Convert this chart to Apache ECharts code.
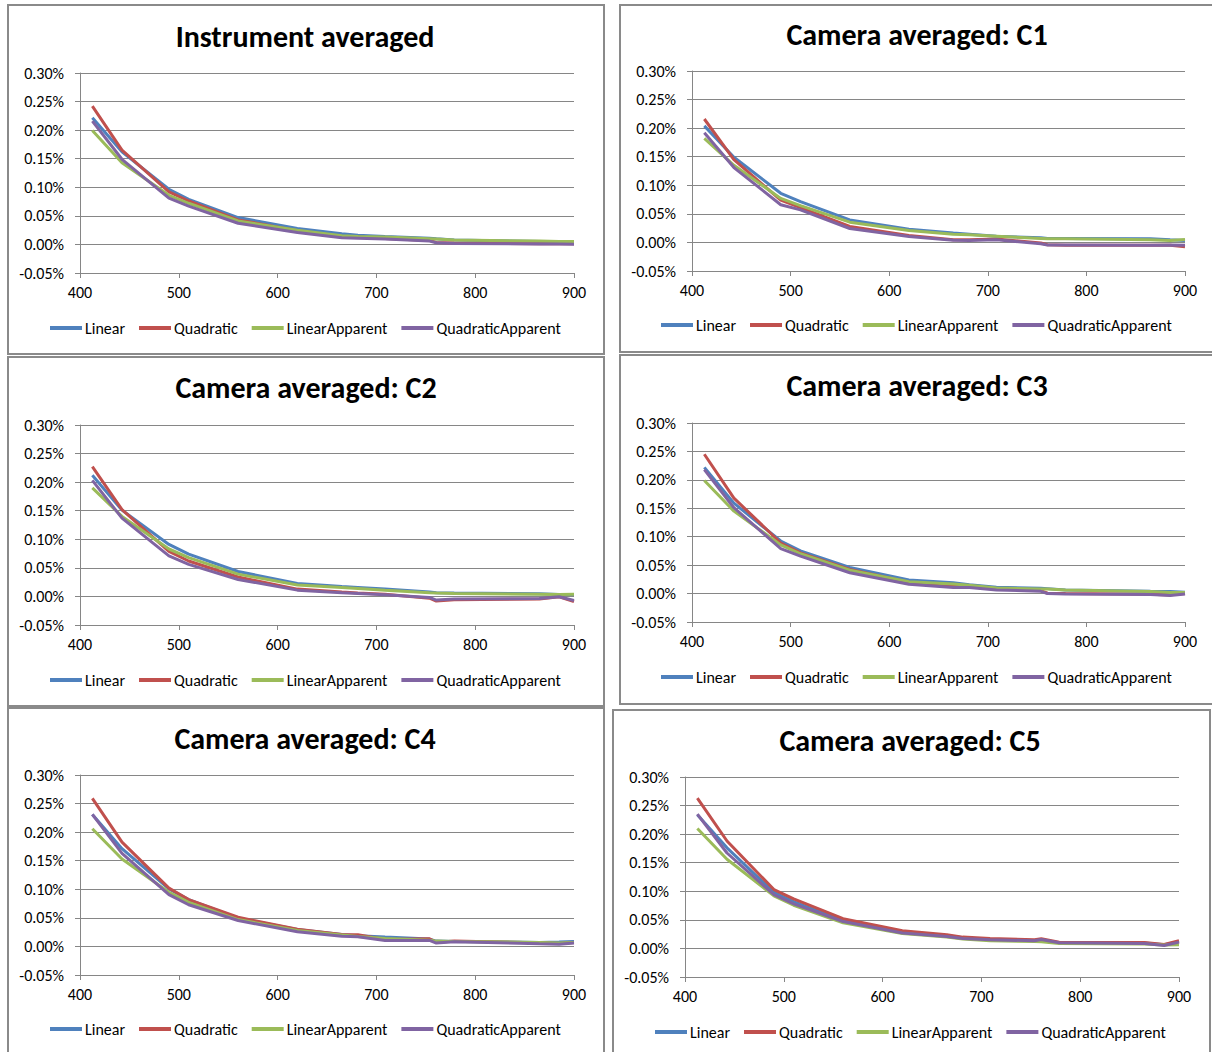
<!DOCTYPE html>
<html>
<head>
<meta charset="utf-8">
<script src="https://cdn.jsdelivr.net/npm/echarts@6/dist/echarts.min.js"></script>
<style>
html,body{margin:0;padding:0;background:#fff;}
#main{width:1212px;height:1052px;}
</style>
</head>
<body>
<div id="main"></div>
<script>
// Wavelengths (nm) of the MERIS bands
const wavelengths = [412.5, 442.5, 490, 510, 560, 620, 665, 681.25, 708.75, 753.75, 760.625, 778.75, 865, 885, 900];
const seriesNames = ['Linear', 'Quadratic', 'LinearApparent', 'QuadraticApparent'];
const panelTitles = ['Instrument averaged', 'Camera averaged: C1', 'Camera averaged: C2', 'Camera averaged: C3', 'Camera averaged: C4', 'Camera averaged: C5'];
const xTicks = [400, 500, 600, 700, 800, 900];
const yTicks = [-0.05, 0, 0.05, 0.10, 0.15, 0.20, 0.25, 0.30]; // percent

// values in percent
const instLinear = [0.2215, 0.162, 0.0965, 0.079, 0.047, 0.028, 0.0186, 0.016, 0.014, 0.011, 0.0099, 0.0076, 0.0052, 0.0047, 0.0047];
const instQuadratic = [0.242, 0.165, 0.092, 0.076, 0.043, 0.024, 0.014, 0.0128, 0.0105, 0.007, 0.0035, 0.0023, 0.0012, 0.0012, 0.001];
const instLinearApparent = [0.1994, 0.143, 0.086, 0.072, 0.041, 0.025, 0.015, 0.014, 0.0128, 0.0099, 0.0093, 0.0076, 0.0058, 0.0052, 0.005];
const instQuadraticApparent = [0.2157, 0.149, 0.081, 0.067, 0.037, 0.021, 0.0116, 0.011, 0.0093, 0.0058, 0.003, 0.0017, 0.0006, 0.0006, 0.0005];

const c1Linear = [0.204, 0.149, 0.086, 0.0715, 0.0395, 0.023, 0.0163, 0.0145, 0.011, 0.008, 0.007, 0.007, 0.0064, 0.0047, 0.0035];
const c1Quadratic = [0.216, 0.145, 0.074, 0.061, 0.028, 0.012, 0.0047, 0.0047, 0.0058, -0.001, -0.004, -0.005, -0.005, -0.005, -0.0075];
const c1LinearApparent = [0.182, 0.135, 0.077, 0.0645, 0.0355, 0.021, 0.0145, 0.0134, 0.011, 0.007, 0.0064, 0.0064, 0.0047, 0.0035, 0.005];
const c1QuadraticApparent = [0.192, 0.131, 0.066, 0.057, 0.0244, 0.0105, 0.004, 0.0035, 0.0047, -0.0023, -0.0047, -0.0047, -0.005, -0.0047, -0.005];

const c2Linear = [0.212, 0.151, 0.091, 0.074, 0.0436, 0.0227, 0.0174, 0.0157, 0.0128, 0.0076, 0.0064, 0.0058, 0.0047, 0.0035, 0.0035];
const c2Quadratic = [0.227, 0.152, 0.079, 0.062, 0.034, 0.0128, 0.0076, 0.0058, 0.004, -0.003, -0.008, -0.0058, -0.0047, -0.0006, -0.009];
const c2LinearApparent = [0.190, 0.140, 0.083, 0.068, 0.039, 0.020, 0.0157, 0.014, 0.011, 0.0064, 0.0058, 0.0052, 0.004, 0.0035, 0.004];
const c2QuadraticApparent = [0.203, 0.137, 0.071, 0.056, 0.0297, 0.011, 0.0064, 0.0052, 0.003, -0.0017, -0.0064, -0.0047, -0.0035, -0.0006, -0.007];

const c3Linear = [0.222, 0.159, 0.0925, 0.075, 0.046, 0.024, 0.019, 0.0157, 0.011, 0.0093, 0.0087, 0.0064, 0.004, 0.0035, 0.0023];
const c3Quadratic = [0.245, 0.168, 0.089, 0.0715, 0.0424, 0.020, 0.0145, 0.0128, 0.008, 0.0052, 0.0006, 0, -0.001, -0.0023, 0];
const c3LinearApparent = [0.199, 0.145, 0.0855, 0.070, 0.041, 0.021, 0.017, 0.0145, 0.0099, 0.008, 0.008, 0.0064, 0.0035, 0.0017, 0.0017];
const c3QuadraticApparent = [0.218, 0.151, 0.079, 0.066, 0.0366, 0.0163, 0.0105, 0.0105, 0.0064, 0.004, 0, -0.0006, -0.0017, -0.0035, -0.0006];

const c4Linear = [0.231, 0.171, 0.1006, 0.082, 0.0494, 0.0297, 0.021, 0.0186, 0.0163, 0.0128, 0.0093, 0.0087, 0.007, 0.0076, 0.0087];
const c4Quadratic = [0.259, 0.1825, 0.102, 0.082, 0.051, 0.030, 0.021, 0.0203, 0.012, 0.0134, 0.007, 0.0093, 0.0064, 0.0052, 0.007];
const c4LinearApparent = [0.206, 0.153, 0.0948, 0.077, 0.047, 0.028, 0.0198, 0.0174, 0.014, 0.011, 0.0093, 0.0087, 0.007, 0.0058, 0.007];
const c4QuadraticApparent = [0.231, 0.163, 0.0907, 0.073, 0.0453, 0.0256, 0.018, 0.0169, 0.0105, 0.0105, 0.0058, 0.0081, 0.0047, 0.004, 0.0058];

const c5Linear = [0.234, 0.176, 0.098, 0.082, 0.048, 0.029, 0.022, 0.0186, 0.0157, 0.014, 0.0145, 0.0099, 0.0093, 0.0064, 0.0116];
const c5Quadratic = [0.263, 0.188, 0.103, 0.0866, 0.052, 0.031, 0.024, 0.0198, 0.0174, 0.0151, 0.0169, 0.011, 0.0105, 0.007, 0.0134];
const c5LinearApparent = [0.210, 0.156, 0.092, 0.0756, 0.045, 0.026, 0.020, 0.0163, 0.0134, 0.0122, 0.0116, 0.0087, 0.0076, 0.0058, 0.0064];
const c5QuadraticApparent = [0.235, 0.167, 0.094, 0.078, 0.047, 0.027, 0.021, 0.0174, 0.0151, 0.0134, 0.0157, 0.0099, 0.0087, 0.0052, 0.011];

const panelData = [
  [instLinear, instQuadratic, instLinearApparent, instQuadraticApparent],
  [c1Linear, c1Quadratic, c1LinearApparent, c1QuadraticApparent],
  [c2Linear, c2Quadratic, c2LinearApparent, c2QuadraticApparent],
  [c3Linear, c3Quadratic, c3LinearApparent, c3QuadraticApparent],
  [c4Linear, c4Quadratic, c4LinearApparent, c4QuadraticApparent],
  [c5Linear, c5Quadratic, c5LinearApparent, c5QuadraticApparent]
];

const colors = ['#4F81BD', '#C0504D', '#9BBB59', '#8064A2'];
const FONT = 'Carlito, Lato, "Open Sans", sans-serif';

// layout (pixels)
const layout = [
  {box: [8, 5, 596, 349],   grid: [80, 73, 494, 200],  title: [305, 36],  legend: [50, 320]},
  {box: [620, 5, 700, 347], grid: [692, 71, 493, 200], title: [917, 34],  legend: [661, 317]},
  {box: [8, 357, 596, 349], grid: [80, 425, 494, 200], title: [306, 387], legend: [50, 672]},
  {box: [620, 355, 700, 349], grid: [692, 423, 493, 199], title: [917, 385], legend: [661, 669]},
  {box: [8, 708, 596, 400], grid: [80, 775, 494, 200], title: [305, 738], legend: [50, 1021]},
  {box: [613, 710, 597, 400], grid: [685, 777, 494, 200], title: [910, 740], legend: [655, 1024]}
];

const chart = echarts.init(document.getElementById('main'), null, {renderer: 'svg'});

const grids = [], xAxes = [], yAxes = [], series = [], legends = [], graphics = [];
layout.forEach((L, i) => {
  graphics.push({
    type: 'rect', z: 0, silent: true,
    shape: {x: L.box[0], y: L.box[1], width: L.box[2], height: L.box[3]},
    style: {fill: 'none', stroke: '#8a8a8a', lineWidth: 2}
  });
  graphics.push({
    type: 'text', z: 10, x: L.title[0], y: L.title[1],
    style: {text: panelTitles[i], font: 'bold 30px ' + FONT, fill: '#000', textAlign: 'center', textVerticalAlign: 'middle'}
  });
  grids.push({left: L.grid[0], top: L.grid[1], width: L.grid[2], height: L.grid[3], containLabel: false});
  xAxes.push({
    type: 'value', gridIndex: i, min: xTicks[0], max: xTicks[xTicks.length - 1], interval: 100,
    axisLine: {show: true, onZero: false, lineStyle: {color: '#868686', width: 1}},
    axisTick: {show: true, length: 5, lineStyle: {color: '#868686'}},
    axisLabel: {color: '#000', fontFamily: FONT, fontSize: 16, margin: 11},
    splitLine: {show: false}
  });
  yAxes.push({
    type: 'value', gridIndex: i, min: yTicks[0], max: yTicks[yTicks.length - 1], interval: 0.05,
    axisLine: {show: true, onZero: false, lineStyle: {color: '#868686', width: 1}},
    axisTick: {show: true, length: 5, lineStyle: {color: '#868686'}},
    axisLabel: {color: '#000', fontFamily: FONT, fontSize: 16, margin: 16,
      formatter: v => v.toFixed(2) + '%'},
    splitLine: {show: true, lineStyle: {color: '#868686', width: 1}}
  });
  legends.push({
    left: L.legend[0], top: L.legend[1], padding: 0, orient: 'horizontal',
    itemWidth: 32, itemHeight: 4, itemGap: 14, icon: 'rect',
    selectedMode: false,
    data: seriesNames,
    textStyle: {color: '#000', fontFamily: FONT, fontSize: 16, padding: [0, 0, 0, -2]}
  });
  panelData[i].forEach((vals, k) => {
    series.push({
      name: seriesNames[k], type: 'line', xAxisIndex: i, yAxisIndex: i,
      data: wavelengths.map((w, j) => [w, vals[j]]),
      showSymbol: false, symbol: 'none', smooth: false,
      lineStyle: {color: colors[k], width: 3},
      itemStyle: {color: colors[k]},
      animation: false, z: 2 + k
    });
  });
});

chart.setOption({
  animation: false,
  color: colors,
  grid: grids, xAxis: xAxes, yAxis: yAxes, legend: legends, series: series,
  graphic: graphics
});
</script>
</body>
</html>
